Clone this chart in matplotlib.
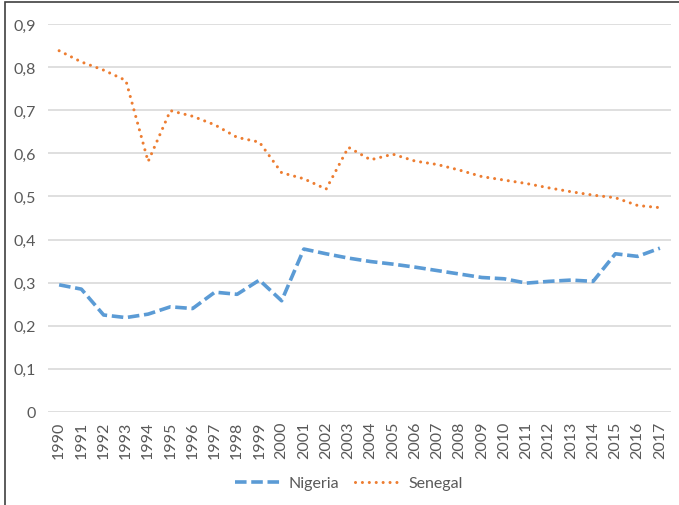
import matplotlib
matplotlib.use("Agg")
import matplotlib.pyplot as plt
from matplotlib.patches import Rectangle
from matplotlib.ticker import FuncFormatter

years = list(range(1990, 2018))
nigeria = [0.295, 0.285, 0.225, 0.219, 0.227, 0.244, 0.240, 0.278, 0.273, 0.306,
           0.258, 0.378, 0.367, 0.357, 0.349, 0.343, 0.336, 0.328, 0.320, 0.312,
           0.309, 0.299, 0.303, 0.306, 0.303, 0.367, 0.361, 0.380]
senegal = [0.838, 0.812, 0.793, 0.769, 0.581, 0.699, 0.686, 0.666, 0.637, 0.626,
           0.555, 0.541, 0.517, 0.614, 0.585, 0.598, 0.582, 0.574, 0.561, 0.546,
           0.538, 0.530, 0.520, 0.511, 0.503, 0.497, 0.479, 0.474]
yticks = [0, 0.1, 0.2, 0.3, 0.4, 0.5, 0.6, 0.7, 0.8, 0.9]

plt.rcParams['font.family'] = ['Lato', 'DejaVu Sans']
fig = plt.figure(figsize=(6.79, 5.06), dpi=100)
W, H = 679, 506
ax = fig.add_axes([48 / W, 1 - 413 / H, (671 - 48) / W, (413 - 25) / H])

x = list(range(len(years)))
ax.plot(x, nigeria, color='#5B9BD5', lw=2.6, dashes=(3.2, 1.3), label='Nigeria',
        dash_capstyle='butt')
ax.plot(x, senegal, color='#ED7D31', lw=2.2, dashes=(0.01, 2.25), dash_capstyle='round',
        label='Senegal')

ax.set_xlim(-0.5, len(years) - 0.5)
ax.set_ylim(0, 0.9)
ax.set_yticks(yticks)
ax.yaxis.set_major_formatter(FuncFormatter(lambda v, p: '0' if v == 0 else f'{v:.1f}'.replace('.', ',')))
ax.set_xticks(x)
ax.set_xticklabels([str(y) for y in years], rotation=90)
ax.tick_params(axis='both', length=0, labelsize=11.5, labelcolor='#595959')
ax.tick_params(axis='y', pad=9)
ax.tick_params(axis='x', pad=6)
ax.grid(axis='y', color='#D9D9D9', lw=1.2)
ax.set_axisbelow(True)
for s in ax.spines.values():
    s.set_visible(False)

leg = fig.legend(loc='center', bbox_to_anchor=(0.5 + 9 / W, 1 - 484 / H), ncol=2, frameon=False,
                 fontsize=11.5, handlelength=3.0, columnspacing=1.0, handletextpad=0.35)
for t in leg.get_texts():
    t.set_color('#595959')

fig.patches.append(Rectangle((5 / W, -0.01), 2, 1 - 3 / H + 0.01, transform=fig.transFigure,
                             fill=False, edgecolor='#404040', lw=1.2))
fig.savefig('out.png', dpi=100)
